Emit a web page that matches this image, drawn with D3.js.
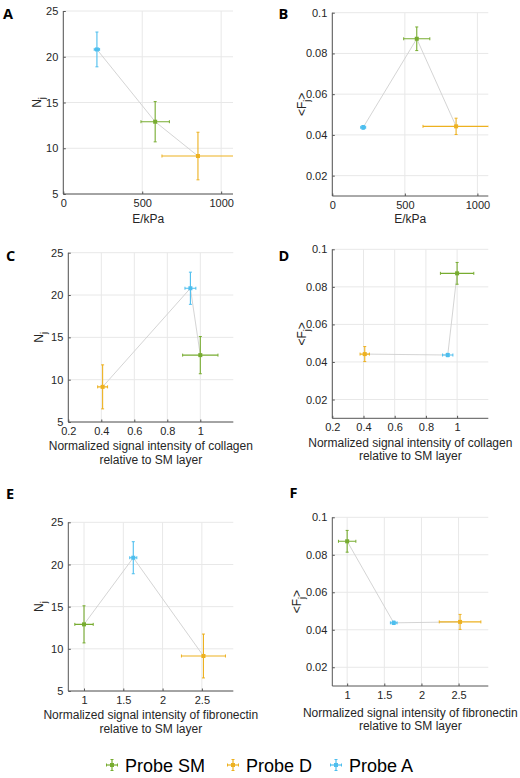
<!DOCTYPE html>
<html>
<head>
<meta charset="utf-8">
<script src="https://cdnjs.cloudflare.com/ajax/libs/d3/7.8.5/d3.min.js"></script>
<style>
  html, body { margin: 0; padding: 0; background: #fff; }
  svg { display: block; }
</style>
</head>
<body>
<script>
// ---------- data ----------
const probes = ["Probe SM", "Probe D", "Probe A"];
const probeColors = ["#77ac30", "#edb120", "#4dbeee"];

const stiffness = [582, 853, 213];          // E / kPa
const stiffnessErr = [90, 228, 17];
const junctions = [12.9, 9.15, 20.8];        // N_j
const junctionsErr = [2.2, 2.6, 1.9];
const force = [0.0872, 0.0442, 0.0437];      // <F_j>
const forceErr = [0.0058, 0.0040, 0.0009];
const collagen = [1.0, 0.408, 0.94];
const collagenErr = [0.107, 0.03, 0.033];
const fibronectin = [1.0, 2.52, 1.627];
const fibronectinErr = [0.117, 0.28, 0.045];

const stiffnessTicks = [0, 500, 1000];
const collagenTicks = [0.2, 0.4, 0.6, 0.8, 1];
const fibronectinTicks = [1, 1.5, 2, 2.5];
const junctionTicks = [5, 10, 15, 20, 25];
const forceTicks = [0.02, 0.04, 0.06, 0.08, 0.1];

const stiffnessLabel = ["E/kPa"];
const collagenLabel = ["Normalized signal intensity of collagen", "relative to SM layer"];
const fibronectinLabel = ["Normalized signal intensity of fibronectin", "relative to SM layer"];

// ---------- panels ----------
const panels = [
  {letter: "A", lx: 3, ly: 18.5, box: [63.3, 233, 11, 194], x: stiffness, xe: stiffnessErr, xd: [0, 1075], xt: stiffnessTicks, xl: stiffnessLabel, xlb: 222.5,
   y: junctions, ye: junctionsErr, yd: [5, 25], yt: junctionTicks, yl: "N", ylx: 40.5, yfmt: d3.format("d")},
  {letter: "B", lx: 278.5, ly: 18.5, box: [332.3, 488.3, 12.7, 196], x: stiffness, xe: stiffnessErr, xd: [0, 1075], xt: stiffnessTicks, xl: stiffnessLabel, xlb: 223,
   y: force, ye: forceErr, yd: [0.01, 0.1], yt: forceTicks, yl: "F", ylx: 306, yfmt: d => d3.format("")(+d.toFixed(2))},
  {letter: "C", lx: 6, ly: 260.5, box: [68.3, 233.3, 252.7, 422], x: collagen, xe: collagenErr, xd: [0.2, 1.2], xt: collagenTicks, xl: collagenLabel, xlb: 450,
   y: junctions, ye: junctionsErr, yd: [5, 25], yt: junctionTicks, yl: "N", ylx: 43, yfmt: d3.format("d")},
  {letter: "D", lx: 278.5, ly: 261, box: [332.3, 488.3, 249.3, 418.3], x: collagen, xe: collagenErr, xd: [0.2, 1.2], xt: collagenTicks, xl: collagenLabel, xlb: 446.5,
   y: force, ye: forceErr, yd: [0.01, 0.1], yt: forceTicks, yl: "F", ylx: 306, yfmt: d => d3.format("")(+d.toFixed(2))},
  {letter: "E", lx: 6, ly: 499, box: [68.3, 233.3, 522.3, 691], x: fibronectin, xe: fibronectinErr, xd: [0.8, 2.9], xt: fibronectinTicks, xl: fibronectinLabel, xlb: 719,
   y: junctions, ye: junctionsErr, yd: [5, 25], yt: junctionTicks, yl: "N", ylx: 43, yfmt: d3.format("d")},
  {letter: "F", lx: 289.5, ly: 498, box: [332.3, 488.3, 517.3, 686], x: fibronectin, xe: fibronectinErr, xd: [0.8, 2.9], xt: fibronectinTicks, xl: fibronectinLabel, xlb: 716.5,
   y: force, ye: forceErr, yd: [0.01, 0.1], yt: forceTicks, yl: "F", ylx: 301, yfmt: d => d3.format("")(+d.toFixed(2))}
];

const W = 520, H = 778;
const svg = d3.select("body").append("svg").attr("width", W).attr("height", H)
  .style("font-family", "'Liberation Sans', Arial, Helvetica, sans-serif");

const defs = svg.append("defs");
const axisColor = "#555";
const gridColor = "#e8e8e8";
const tickFont = 11;
const labelFont = 12;

panels.forEach((p, pi) => {
  const [L, R, T, B] = p.box;
  const xs = d3.scaleLinear().domain(p.xd).range([L, R]);
  const ys = d3.scaleLinear().domain(p.yd).range([B, T]);
  const g = svg.append("g");

  defs.append("clipPath").attr("id", "clip" + pi)
    .append("rect").attr("x", L).attr("y", T).attr("width", R - L).attr("height", B - T);

  // grid
  const grid = g.append("g");
  grid.selectAll("line.vx").data(p.xt).join("line")
    .attr("x1", d => xs(d)).attr("x2", d => xs(d)).attr("y1", T).attr("y2", B)
    .attr("stroke", gridColor).attr("stroke-width", 1);
  grid.selectAll("line.hy").data(p.yt).join("line").attr("class", "hy")
    .attr("y1", d => ys(d)).attr("y2", d => ys(d)).attr("x1", L).attr("x2", R)
    .attr("stroke", gridColor).attr("stroke-width", 1);

  // axes
  const xAxis = d3.axisBottom(xs).tickValues(p.xt).tickSizeInner(-2.5).tickSizeOuter(0).tickPadding(5)
    .tickFormat(d3.format(""));
  const yAxis = d3.axisLeft(ys).tickValues(p.yt).tickSizeInner(-2.5).tickSizeOuter(0).tickPadding(5)
    .tickFormat(p.yfmt);
  const gx = g.append("g").attr("transform", `translate(0,${B})`).call(xAxis);
  const gy = g.append("g").attr("transform", `translate(${L},0)`).call(yAxis);
  [gx, gy].forEach(a => {
    a.select(".domain").attr("stroke", axisColor).attr("stroke-width", 1);
    a.selectAll(".tick line").attr("stroke", axisColor);
    a.selectAll(".tick text").attr("fill", "#262626").style("font-size", tickFont + "px")
      .style("font-family", "'Liberation Sans', Arial, sans-serif");
  });
  gx.selectAll(".tick text").attr("dy", "0.71em");
  gx.select(".domain").attr("d", `M${L},0H${R}`);
  gy.select(".domain").attr("d", `M0,${T}V${B}`);

  // x label
  const xl = g.append("text").attr("text-anchor", "middle").attr("fill", "#262626")
    .style("font-size", labelFont + "px");
  p.xl.forEach((line, i) => {
    xl.append("tspan").attr("x", (L + R) / 2).attr("y", p.xlb + i * 13.5).text(line);
  });

  // y label
  const yl = g.append("text").attr("text-anchor", "middle").attr("fill", "#262626")
    .style("font-size", labelFont + "px")
    .attr("transform", `translate(${p.ylx},${(T + B) / 2}) rotate(-90)`);
  if (p.yl === "N") {
    yl.append("tspan").text("N");
    yl.append("tspan").attr("dy", 4).style("font-size", "9px").text("j");
  } else {
    yl.append("tspan").text("<F");
    yl.append("tspan").attr("dy", 4).style("font-size", "9px").text("j");
    yl.append("tspan").attr("dy", -4).text(">");
  }

  // panel letter
  svg.append("text").attr("x", p.lx).attr("y", p.ly).text(p.letter)
    .style("font-family", "'Open Sans', 'Liberation Sans', sans-serif")
    .style("font-weight", "bold").style("font-size", "14.5px").attr("fill", "#000");

  // data
  const pts = probes.map((name, i) => ({name, i, x: p.x[i], y: p.y[i], xe: p.xe[i], ye: p.ye[i], c: probeColors[i]}));
  const sorted = pts.slice().sort((a, b) => a.x - b.x);
  const plot = g.append("g").attr("clip-path", `url(#clip${pi})`);

  plot.append("path").datum(sorted)
    .attr("d", d3.line().x(d => xs(d.x)).y(d => ys(d.y)))
    .attr("fill", "none").attr("stroke", "#cfcfcf").attr("stroke-width", 0.9);

  const cap = 1.5;
  const pg = plot.selectAll("g.pt").data(pts).join("g").attr("class", "pt");
  // vertical error bar
  pg.append("line").attr("x1", d => xs(d.x)).attr("x2", d => xs(d.x))
    .attr("y1", d => ys(d.y - d.ye)).attr("y2", d => ys(d.y + d.ye))
    .attr("stroke", d => d.c).attr("stroke-width", 1.1);
  pg.append("line").attr("x1", d => xs(d.x) - cap).attr("x2", d => xs(d.x) + cap)
    .attr("y1", d => ys(d.y - d.ye)).attr("y2", d => ys(d.y - d.ye)).attr("stroke", d => d.c).attr("stroke-width", 1);
  pg.append("line").attr("x1", d => xs(d.x) - cap).attr("x2", d => xs(d.x) + cap)
    .attr("y1", d => ys(d.y + d.ye)).attr("y2", d => ys(d.y + d.ye)).attr("stroke", d => d.c).attr("stroke-width", 1);
  // horizontal error bar
  pg.append("line").attr("y1", d => ys(d.y)).attr("y2", d => ys(d.y))
    .attr("x1", d => xs(d.x - d.xe)).attr("x2", d => xs(d.x + d.xe))
    .attr("stroke", d => d.c).attr("stroke-width", 1.1);
  pg.append("line").attr("y1", d => ys(d.y) - cap).attr("y2", d => ys(d.y) + cap)
    .attr("x1", d => xs(d.x - d.xe)).attr("x2", d => xs(d.x - d.xe)).attr("stroke", d => d.c).attr("stroke-width", 1);
  pg.append("line").attr("y1", d => ys(d.y) - cap).attr("y2", d => ys(d.y) + cap)
    .attr("x1", d => xs(d.x + d.xe)).attr("x2", d => xs(d.x + d.xe)).attr("stroke", d => d.c).attr("stroke-width", 1);
  // marker
  pg.append("rect").attr("x", d => xs(d.x) - 2).attr("y", d => ys(d.y) - 2)
    .attr("width", 4).attr("height", 4).attr("fill", d => d.c);
});

// ---------- legend ----------
const legendX = [112, 233, 336];
const legendY = 765;
const lg = svg.append("g");
probes.forEach((name, i) => {
  const cx = legendX[i], c = probeColors[i];
  const item = lg.append("g");
  item.append("line").attr("x1", cx).attr("x2", cx).attr("y1", legendY - 5.5).attr("y2", legendY + 5.5).attr("stroke", c).attr("stroke-width", 1.2);
  item.append("line").attr("x1", cx - 5.5).attr("x2", cx + 5.5).attr("y1", legendY).attr("y2", legendY).attr("stroke", c).attr("stroke-width", 1.2);
  item.append("line").attr("x1", cx - 1.5).attr("x2", cx + 1.5).attr("y1", legendY - 5.5).attr("y2", legendY - 5.5).attr("stroke", c);
  item.append("line").attr("x1", cx - 1.5).attr("x2", cx + 1.5).attr("y1", legendY + 5.5).attr("y2", legendY + 5.5).attr("stroke", c);
  item.append("line").attr("x1", cx - 5.5).attr("x2", cx - 5.5).attr("y1", legendY - 1.5).attr("y2", legendY + 1.5).attr("stroke", c);
  item.append("line").attr("x1", cx + 5.5).attr("x2", cx + 5.5).attr("y1", legendY - 1.5).attr("y2", legendY + 1.5).attr("stroke", c);
  item.append("rect").attr("x", cx - 2).attr("y", legendY - 2).attr("width", 4).attr("height", 4).attr("fill", c);
  item.append("text").attr("x", cx + 13).attr("y", legendY + 6.5).text(name)
    .style("font-size", "18px").attr("fill", "#000");
});
</script>
</body>
</html>
